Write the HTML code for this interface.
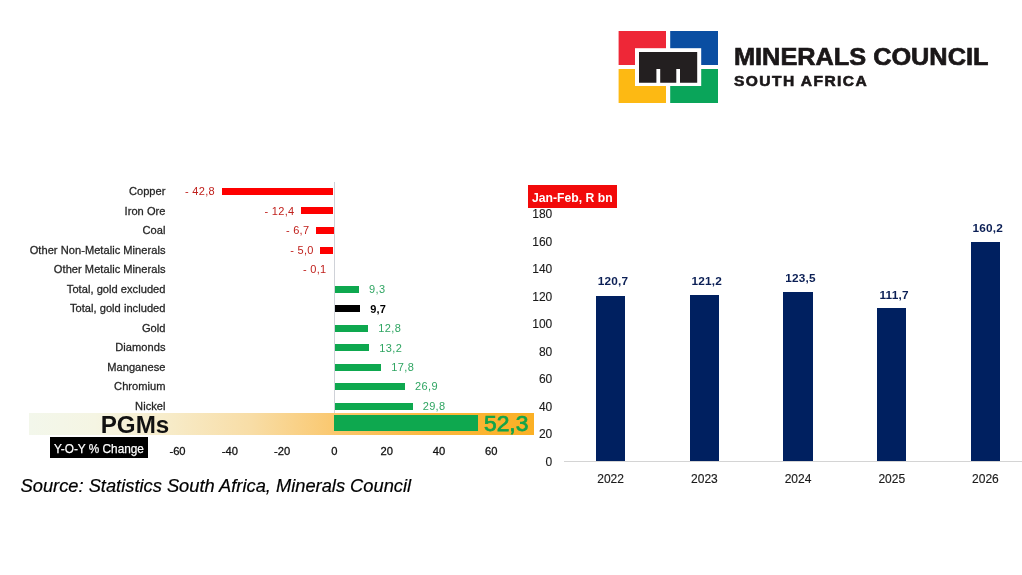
<!DOCTYPE html>
<html lang="en">
<head>
<meta charset="utf-8">
<title>Minerals Council South Africa</title>
<style>
html,body{margin:0;padding:0;background:#fff;}
body{width:1022px;height:575px;position:relative;overflow:hidden;font-family:"Liberation Sans",sans-serif;color:#222;}
.a{position:absolute;white-space:nowrap;}
.cat{right:856.5px;font-size:11.1px;letter-spacing:0.03px;-webkit-text-stroke:0.28px #262626;line-height:14px;height:14px;color:#262626;text-align:right;}
.bar{height:7.0px;}
.neg{background:#fe0000;}
.pos{background:#0ea84f;}
.blk{background:#000;}
.vn{letter-spacing:0.28px;font-size:11px;line-height:14px;height:14px;color:#c0201c;text-align:right;}
.vp{letter-spacing:0.35px;font-size:11px;line-height:14px;height:14px;color:#2fa562;}
.vb{letter-spacing:0.25px;font-size:11px;line-height:14px;height:14px;color:#000;font-weight:bold;}
.tk{font-size:11.2px;line-height:14px;height:14px;color:#111;-webkit-text-stroke:0.28px #111;width:40px;text-align:center;}
.yl{font-size:12px;line-height:14px;height:14px;color:#1a1a1a;-webkit-text-stroke:0.12px #1a1a1a;width:30px;text-align:right;left:522.3px;}
.nb{background:#002060;width:29.3px;}
.nv{font-size:11.8px;line-height:14px;height:14px;font-weight:bold;color:#0b1f55;width:60px;text-align:center;letter-spacing:0.2px;}
.yr{font-size:12px;line-height:14px;height:14px;color:#1a1a1a;width:60px;text-align:center;letter-spacing:0;-webkit-text-stroke:0.15px #1a1a1a;}
</style>
</head>
<body>
<svg class="a" style="left:610px;top:20px" width="120" height="90" viewBox="610 20 120 90">
<rect x="618.6" y="31" width="47.4" height="34" fill="#ee2737"/>
<rect x="670.2" y="31" width="47.8" height="34" fill="#0a4ea2"/>
<rect x="618.6" y="69" width="47.4" height="34" fill="#fdb913"/>
<rect x="670.2" y="69" width="47.8" height="34" fill="#0aa55a"/>
<rect x="635" y="48.2" width="66.2" height="37.8" fill="#fff"/>
<path d="M639 52H697.2V82.8H680V69H676.3V82.8H660.2V69H656.4V82.8H639Z" fill="#231f20"/>
</svg>
<div class="a" id="mc" style="left:733.8px;top:42px;font-size:24.2px;line-height:30px;font-weight:bold;color:#1a1718;transform-origin:0 0;transform:scaleX(1.046);-webkit-text-stroke:0.7px #1a1718;">MINERALS COUNCIL</div>
<div class="a" id="sa" style="left:734.3px;top:73.3px;font-size:14px;line-height:16px;font-weight:bold;color:#1a1718;letter-spacing:1.3px;transform-origin:0 0;transform:scaleX(1.11);-webkit-text-stroke:0.6px #1a1718;">SOUTH AFRICA</div>
<div class="a" style="left:333.8px;top:182px;width:1px;height:232px;background:#cfd2d8;"></div>
<div class="a cat" style="top:184.20px">Copper</div>
<div class="a bar neg" style="left:221.6px;top:187.8px;width:111.9px"></div>
<div class="a vn" style="right:807.1px;top:184.2px">- 42,8</div>
<div class="a cat" style="top:204.20px">Iron Ore</div>
<div class="a bar neg" style="left:301.1px;top:207.4px;width:32.4px"></div>
<div class="a vn" style="right:727.6px;top:204.2px">- 12,4</div>
<div class="a cat" style="top:223.20px">Coal</div>
<div class="a bar neg" style="left:316.0px;top:226.9px;width:17.5px"></div>
<div class="a vn" style="right:712.7px;top:223.2px">- 6,7</div>
<div class="a cat" style="top:243.20px">Other Non-Metalic Minerals</div>
<div class="a bar neg" style="left:320.4px;top:246.5px;width:13.1px"></div>
<div class="a vn" style="right:708.3px;top:243.2px">- 5,0</div>
<div class="a cat" style="top:262.20px">Other Metalic Minerals</div>
<div class="a vn" style="right:695.5px;top:262.2px">- 0,1</div>
<div class="a cat" style="top:282.20px">Total, gold excluded</div>
<div class="a bar pos" style="left:335.1px;top:285.6px;width:24.1px"></div>
<div class="a vp" style="left:369.1px;top:282.2px">9,3</div>
<div class="a cat" style="top:301.20px">Total, gold included</div>
<div class="a bar blk" style="left:335.1px;top:305.1px;width:25.2px"></div>
<div class="a vb" style="left:370.2px;top:302.2px">9,7</div>
<div class="a cat" style="top:321.20px">Gold</div>
<div class="a bar pos" style="left:335.1px;top:324.6px;width:33.3px"></div>
<div class="a vp" style="left:378.3px;top:321.2px">12,8</div>
<div class="a cat" style="top:340.20px">Diamonds</div>
<div class="a bar pos" style="left:335.1px;top:344.2px;width:34.3px"></div>
<div class="a vp" style="left:379.3px;top:341.2px">13,2</div>
<div class="a cat" style="top:360.20px">Manganese</div>
<div class="a bar pos" style="left:335.1px;top:363.8px;width:46.3px"></div>
<div class="a vp" style="left:391.3px;top:360.2px">17,8</div>
<div class="a cat" style="top:379.20px">Chromium</div>
<div class="a bar pos" style="left:335.1px;top:383.3px;width:70.1px"></div>
<div class="a vp" style="left:415.1px;top:379.2px">26,9</div>
<div class="a cat" style="top:399.20px">Nickel</div>
<div class="a bar pos" style="left:335.1px;top:402.9px;width:77.7px"></div>
<div class="a vp" style="left:422.7px;top:399.2px">29,8</div>
<div class="a" style="left:29.3px;top:413.4px;width:504.5px;height:21.2px;background:linear-gradient(90deg,#f3f7eb 0%,#f5f5e3 13%,#f7ecca 27%,#f8dda6 44%,#fac76d 61%,#fbb73c 80%,#fbb025 100%);"></div>
<div class="a" style="left:333.8px;top:415.3px;width:144px;height:15.5px;background:#0ea84f;"></div>
<div class="a" id="pgm" style="left:100.7px;top:410.9px;font-size:24.2px;line-height:28px;font-weight:bold;color:#111;">PGMs</div>
<div class="a" id="v52" style="left:484.0px;top:408.7px;font-size:22.8px;line-height:28px;color:#12a44b;-webkit-text-stroke:0.75px #12a44b;">52,3</div>
<div class="a" style="left:50.1px;top:437.4px;width:97.6px;height:20.5px;background:#000;"></div>
<div class="a" id="yoy" style="left:54.2px;top:440.6px;font-size:13.2px;line-height:16px;color:#fff;transform-origin:0 0;transform:scaleX(0.895);-webkit-text-stroke:0.25px #fff;">Y-O-Y % Change</div>
<div class="a tk" style="left:157.5px;top:444.0px">-60</div>
<div class="a tk" style="left:209.8px;top:444.0px">-40</div>
<div class="a tk" style="left:262.1px;top:444.0px">-20</div>
<div class="a tk" style="left:314.4px;top:444.0px">0</div>
<div class="a tk" style="left:366.7px;top:444.0px">20</div>
<div class="a tk" style="left:419.0px;top:444.0px">40</div>
<div class="a tk" style="left:471.3px;top:444.0px">60</div>
<div class="a" id="src" style="left:20.6px;top:474.6px;font-size:18.3px;line-height:22px;font-style:italic;color:#000;-webkit-text-stroke:0.2px #000;">Source: Statistics South Africa, Minerals Council</div>
<div class="a" style="left:527.8px;top:185.3px;width:89.1px;height:22.3px;background:#f20a0a;"></div>
<div class="a" id="jf" style="left:532px;top:189.8px;font-size:12.2px;line-height:16px;font-weight:bold;color:#fff;letter-spacing:0;">Jan-Feb, R bn</div>
<div class="a yl" style="top:454.5px">0</div>
<div class="a yl" style="top:427.1px">20</div>
<div class="a yl" style="top:399.6px">40</div>
<div class="a yl" style="top:372.1px">60</div>
<div class="a yl" style="top:344.7px">80</div>
<div class="a yl" style="top:317.2px">100</div>
<div class="a yl" style="top:289.8px">120</div>
<div class="a yl" style="top:262.3px">140</div>
<div class="a yl" style="top:234.9px">160</div>
<div class="a yl" style="top:207.4px">180</div>
<div class="a" style="left:564px;top:461.1px;width:458px;height:1px;background:#d4d4d4;"></div>
<div class="a nb" style="left:596.0px;top:295.8px;height:165.5px"></div>
<div class="a nv" style="left:583.0px;top:273.9px">120,7</div>
<div class="a yr" style="left:580.6px;top:471.5px">2022</div>
<div class="a nb" style="left:689.7px;top:295.1px;height:166.2px"></div>
<div class="a nv" style="left:676.8px;top:273.9px">121,2</div>
<div class="a yr" style="left:674.4px;top:471.5px">2023</div>
<div class="a nb" style="left:783.4px;top:292.0px;height:169.3px"></div>
<div class="a nv" style="left:770.4px;top:270.9px">123,5</div>
<div class="a yr" style="left:768.0px;top:471.5px">2024</div>
<div class="a nb" style="left:877.1px;top:308.2px;height:153.1px"></div>
<div class="a nv" style="left:864.1px;top:287.9px">111,7</div>
<div class="a yr" style="left:861.8px;top:471.5px">2025</div>
<div class="a nb" style="left:970.8px;top:241.7px;height:219.6px"></div>
<div class="a nv" style="left:957.8px;top:220.9px">160,2</div>
<div class="a yr" style="left:955.4px;top:471.5px">2026</div>
</body>
</html>
